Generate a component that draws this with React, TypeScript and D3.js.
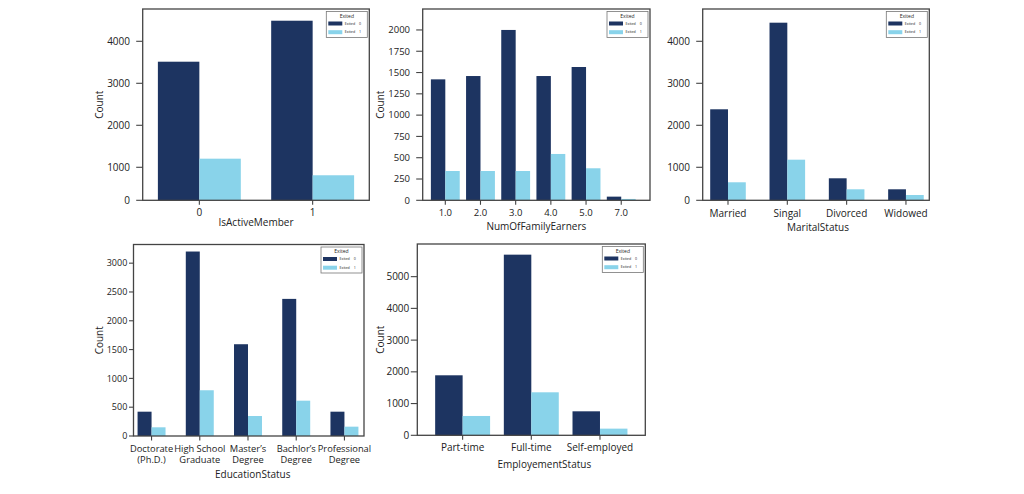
import React from "react";
import * as d3 from "d3";

// ---------- data ----------
const activeCats = ["0", "1"];
const activeStay = [3514, 4490];
const activeExit = [1205, 810];

const earnersCats = ["1.0", "2.0", "3.0", "4.0", "5.0", "7.0"];
const earnersStay = [1420, 1459, 2000, 1459, 1565, 43];
const earnersExit = [344, 344, 344, 544, 376, 16];

const maritalCats = ["Married", "Singal", "Divorced", "Widowed"];
const maritalStay = [2381, 4443, 738, 476];
const maritalExit = [643, 1181, 476, 340];

const eduCats = [
  "Doctorate\n(Ph.D.)",
  "High School\nGraduate",
  "Master’s\nDegree",
  "Bachlor’s\nDegree",
  "Professional\nDegree",
];
const eduStay = [422, 3202, 1593, 2380, 422];
const eduExit = [151, 794, 347, 613, 162];

const empCats = ["Part-time", "Full-time", "Self-employed"];
const empStay = [1891, 5693, 756];
const empExit = [609, 1355, 210];

const ticksK = [0, 1000, 2000, 3000, 4000];
const ticks250 = [0, 250, 500, 750, 1000, 1250, 1500, 1750, 2000];
const ticks500 = [0, 500, 1000, 1500, 2000, 2500, 3000];
const ticks5K = [0, 1000, 2000, 3000, 4000, 5000];

const legendTitle = "Exited";
const legendLabels = ["Exited = 0", "Exited = 1"];
const yLabel = "Count";

// ---------- style ----------
const DARK = "#1d3461";
const LIGHT = "#89d3ea";
const SPINE = "#444";
const TEXT = "#222";
const FONT = "'Open Sans', 'DejaVu Sans', sans-serif";

type Panel = {
  cats: string[];
  stay: number[];
  exit: number[];
  ticks: number[];
  xLabel: string;
  showY: boolean;
  left: number;
  right: number;
  top: number;
  bottom: number;
  yMin: number;
  yMax: number;
  pad: number;
  align: number;
  barFrac: number;
  yLabelOff: number;
  xLabelOff: number;
  xLabelDx: number;
  xTickOff: number;
  tickLen: number;
  tickGap: number;
  fs: number;
  xfs: number;
};

const panels: Panel[] = [
  {
    cats: activeCats, stay: activeStay, exit: activeExit, ticks: ticksK,
    xLabel: "IsActiveMember", showY: true,
    left: 142.7, right: 369.3, top: 9, bottom: 200.3, yMin: 214, yMax: 4769,
    pad: 0.5, align: 0.5, barFrac: 0.366, yLabelOff: 43.4, xLabelOff: 22.4, xLabelDx: 0,
    xTickOff: 12, tickLen: 6.5, tickGap: 12.7, fs: 10, xfs: 10,
  },
  {
    cats: earnersCats, stay: earnersStay, exit: earnersExit, ticks: ticks250,
    xLabel: "NumOfFamilyEarners", showY: true,
    left: 422.7, right: 650, top: 9, bottom: 200.3, yMin: 0, yMax: 2246,
    pad: 0.73, align: 0.44, barFrac: 0.41, yLabelOff: 42.7, xLabelOff: 25.8, xLabelDx: 0,
    xTickOff: 12, tickLen: 6.5, tickGap: 12.7, fs: 9.5, xfs: 9.5,
  },
  {
    cats: maritalCats, stay: maritalStay, exit: maritalExit, ticks: ticksK,
    xLabel: "MaritalStatus", showY: false,
    left: 702.7, right: 929.3, top: 9, bottom: 200.3, yMin: 214, yMax: 4769,
    pad: 0.41, align: 0.52, barFrac: 0.3, yLabelOff: 43, xLabelOff: 27, xLabelDx: 2,
    xTickOff: 13, tickLen: 6.5, tickGap: 12.7, fs: 10, xfs: 10,
  },
  {
    cats: eduCats, stay: eduStay, exit: eduExit, ticks: ticks500,
    xLabel: "EducationStatus", showY: true,
    left: 133.5, right: 364, top: 244.5, bottom: 436, yMin: 0, yMax: 3324,
    pad: 0.39, align: 0.48, barFrac: 0.29, yLabelOff: 34.2, xLabelOff: 38.3, xLabelDx: 4,
    xTickOff: 12.3, tickLen: 4.5, tickGap: 6.2, fs: 9, xfs: 9.3,
  },
  {
    cats: empCats, stay: empStay, exit: empExit, ticks: ticks5K,
    xLabel: "EmployementStatus", showY: true,
    left: 417.3, right: 645.3, top: 244, bottom: 435.3, yMin: 0, yMax: 6029,
    pad: 0.66, align: 0.5, barFrac: 0.4, yLabelOff: 36.6, xLabelOff: 29, xLabelDx: 13,
    xTickOff: 12, tickLen: 6.5, tickGap: 8, fs: 10, xfs: 10,
  },
];

function BarPanel({ p }: { p: Panel }) {
  const x = d3
    .scalePoint<string>()
    .domain(p.cats)
    .range([p.left, p.right])
    .padding(p.pad)
    .align(p.align);
  const y = d3
    .scaleLinear()
    .domain([p.yMin, p.yMax])
    .range([p.bottom, p.top])
    .clamp(true);
  const bw = x.step() * p.barFrac;
  const y0 = y(0);
  const lw = 41;
  const lh = 26;
  const lx = p.right - 2 - lw;
  const ly = p.top + 2.5;
  const cy = (p.top + p.bottom) / 2;
  return (
    <g>
      {p.cats.map((c, i) => (
        <g key={c}>
          <rect x={x(c)! - bw} y={y(p.stay[i])} width={bw} height={y0 - y(p.stay[i])} fill={DARK} />
          <rect x={x(c)!} y={y(p.exit[i])} width={bw} height={y0 - y(p.exit[i])} fill={LIGHT} />
        </g>
      ))}
      {/* frame */}
      <rect x={p.left} y={p.top} width={p.right - p.left} height={p.bottom - p.top} fill="none" stroke={SPINE} strokeWidth={1.3} />
      {/* y ticks */}
      {p.ticks.map((t) => (
        <g key={t} transform={`translate(0,${y(t)})`}>
          <line x1={p.left - p.tickLen} x2={p.left} stroke={SPINE} strokeWidth={1.1} />
          <text x={p.left - p.tickGap} dy="0.35em" textAnchor="end" fontSize={p.fs} fill={TEXT}>
            {t}
          </text>
        </g>
      ))}
      {/* x ticks */}
      {p.cats.map((c) => (
        <g key={c} transform={`translate(${x(c)},0)`}>
          <line y1={p.bottom} y2={p.bottom + 4.5} stroke={SPINE} strokeWidth={1.1} />
          <text y={p.bottom + p.xTickOff} textAnchor="middle" fontSize={p.xfs} fill={TEXT}>
            {c.split("\n").map((ln, k) => (
              <tspan key={k} x={0} dy={k === 0 ? "0.35em" : "11"}>
                {ln}
              </tspan>
            ))}
          </text>
        </g>
      ))}
      {/* axis labels */}
      <text
        x={(p.left + p.right) / 2 + p.xLabelDx}
        y={p.bottom + p.xLabelOff}
        dy="0.35em"
        textAnchor="middle"
        fontSize={10}
        fill={TEXT}
      >
        {p.xLabel}
      </text>
      {p.showY && (
        <text
          transform={`translate(${p.left - p.yLabelOff},${cy}) rotate(-90)`}
          dy="0.35em"
          textAnchor="middle"
          fontSize={10}
          fill={TEXT}
        >
          {yLabel}
        </text>
      )}
      {/* legend */}
      <g transform={`translate(${lx},${ly})`}>
        <rect width={lw} height={lh} fill="#fff" stroke="#777" strokeWidth={0.8} />
        <text x={lw / 2} y={4.5} dy="0.35em" textAnchor="middle" fontSize={5} fill={TEXT}>
          {legendTitle}
        </text>
        {legendLabels.map((lab, i) => (
          <g key={lab} transform={`translate(2,${10 + i * 8.7})`}>
            <rect width={14} height={4} fill={i === 0 ? DARK : LIGHT} />
            <text x={16.5} y={2} dy="0.35em" fontSize={3.6} fill={TEXT}>
              {lab}
            </text>
          </g>
        ))}
      </g>
    </g>
  );
}

export default function App() {
  return (
    <svg
      width={1024}
      height={494}
      style={{ position: "absolute", left: 0, top: 0, background: "#fff" }}
      fontFamily={FONT}
    >
      <rect width={1024} height={494} fill="#fff" />
      {panels.map((p, i) => (
        <BarPanel key={i} p={p} />
      ))}
    </svg>
  );
}
